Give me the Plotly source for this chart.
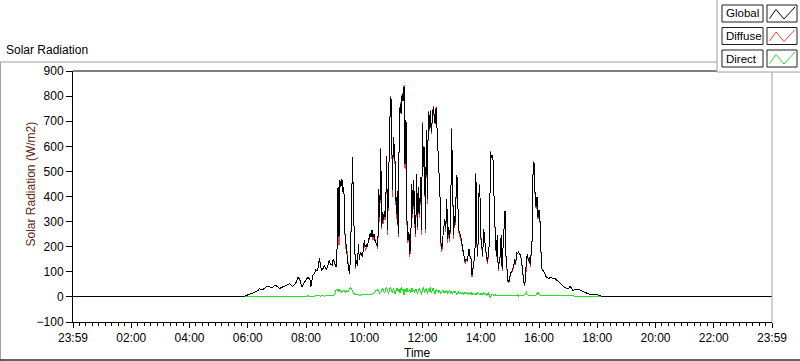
import plotly.graph_objects as go

# ---------------- data ----------------
START_MIN = 350      # first sample time (minutes after the 23:59 axis origin)
STEP_MIN = 2         # sampling interval, minutes

global_vals = [
    0, 2, 3, 5, 6, 8, 9, 10, 11, 13,
    15, 17, 19, 20, 22, 25, 27, 33, 32, 30,
    28, 31, 35, 38, 41, 43, 43, 42, 40, 38,
    36, 40, 44, 46, 45, 42, 38, 35, 33, 36,
    38, 40, 42, 44, 45, 46, 48, 50, 52, 50,
    46, 42, 45, 50, 53, 58, 70, 79, 72, 65,
    50, 40, 48, 55, 65, 70, 74, 77, 72, 70,
    40, 65, 86, 90, 95, 108, 104, 106, 130, 156,
    120, 106, 110, 115, 126, 118, 106, 120, 132, 145,
    130, 128, 126, 152, 140, 125, 119, 193,
    437, 238, 464, 440, 470, 420, 437, 258, 205, 193,
    139, 110, 92, 193, 384, 559, 331, 220, 119, 146,
    123, 212, 146, 180, 170, 159, 186, 225, 199, 210,
    199, 218, 230, 252, 240, 265, 239, 250, 225, 215,
    205, 199, 430, 318, 590, 278, 340, 305, 340, 318,
    563, 265, 450, 663, 795, 782, 424, 636, 597, 517,
    331, 420, 252, 650, 769, 729, 809, 780, 838, 530,
    703, 305, 225, 260, 172, 239, 451, 331, 464, 305,
    252, 491, 278, 437, 330, 477, 265, 690, 517, 597,
    271, 663, 391, 736, 670, 742, 657, 700, 755, 723,
    690, 755, 670, 620, 497, 405, 218, 192, 240, 280,
    311, 271, 391, 231, 280, 231, 311, 670, 405, 245,
    324, 300, 484, 470, 271, 258, 238, 231, 200, 178,
    160, 139, 152, 145, 165, 192, 160, 152, 86, 125,
    140, 165, 490, 218, 165, 405, 444, 245, 200, 165,
    271, 218, 192, 160, 139, 178, 218, 576, 556, 563,
    537, 338, 245, 165, 245, 112, 139, 165, 245, 112,
    200, 271, 344, 165, 112, 66, 59, 86, 99, 99,
    110, 125, 152, 132, 178, 172, 178, 172, 165, 145,
    100, 72, 46, 66, 150, 172, 145, 159, 126, 198,
    231, 537, 530, 404, 358, 398, 318, 345, 305, 185,
    112, 106, 100, 93,
    82, 78, 75, 72, 76, 79, 76, 74, 72, 73,
    72, 68, 64, 59, 56, 52, 48, 44, 40, 38,
    37, 36, 34, 32, 36, 42, 38, 30, 26, 27,
    29, 30, 30, 30, 29, 28, 27, 25, 23, 20,
    18, 16, 14, 12, 11, 11, 11, 11, 10, 10,
    9, 9, 8, 8, 7, 6, 5, 4, 2, 0,
]

diffuse_vals = [
    0, 2, 3, 5, 6, 8, 9, 10, 11, 13,
    15, 17, 19, 20, 22, 25, 27, 33, 32, 30,
    28, 31, 35, 38, 41, 43, 43, 42, 40, 38,
    36, 40, 44, 46, 45, 42, 38, 35, 33, 36,
    38, 40, 42, 44, 45, 46, 48, 50, 52, 50,
    46, 42, 45, 50, 53, 58, 70, 79, 70, 65,
    50, 40, 48, 55, 65, 70, 74, 77, 72, 70,
    40, 65, 86, 90, 95, 108, 104, 106, 130, 150,
    120, 106, 110, 115, 126, 118, 106, 120, 132, 145,
    130, 128, 126, 148, 140, 125, 119, 193,
    437, 205, 464, 440, 470, 420, 437, 258, 190, 193,
    139, 110, 92, 193, 384, 559, 331, 200, 112, 146,
    123, 212, 146, 180, 170, 159, 186, 225, 185, 195,
    199, 218, 230, 252, 240, 265, 225, 250, 225, 215,
    205, 190, 430, 300, 595, 270, 340, 290, 340, 305,
    563, 245, 450, 663, 800, 782, 400, 636, 597, 500,
    310, 420, 240, 650, 775, 729, 812, 780, 845, 510,
    703, 290, 215, 260, 160, 239, 451, 315, 464, 290,
    240, 491, 265, 437, 315, 477, 245, 695, 517, 597,
    255, 663, 370, 740, 660, 745, 650, 700, 760, 715,
    690, 758, 670, 600, 480, 405, 205, 180, 240, 270,
    311, 260, 391, 215, 280, 220, 311, 672, 395, 230,
    324, 285, 484, 470, 265, 250, 238, 225, 200, 172,
    160, 130, 152, 140, 165, 192, 155, 152, 80, 125,
    140, 165, 495, 205, 160, 405, 450, 235, 200, 160,
    271, 210, 192, 155, 130, 178, 218, 580, 556, 563,
    537, 338, 230, 160, 245, 105, 139, 160, 245, 105,
    200, 271, 344, 160, 112, 62, 55, 86, 99, 99,
    110, 118, 152, 128, 178, 172, 178, 170, 165, 140,
    100, 70, 42, 66, 150, 172, 140, 159, 120, 198,
    231, 540, 530, 395, 350, 398, 310, 345, 300, 180,
    112, 106, 100, 93,
    82, 78, 75, 72, 76, 79, 76, 74, 72, 73,
    72, 68, 64, 59, 56, 52, 48, 44, 40, 38,
    37, 36, 34, 32, 36, 42, 38, 30, 26, 27,
    29, 30, 30, 30, 29, 28, 27, 25, 23, 20,
    18, 16, 14, 12, 11, 11, 11, 11, 10, 10,
    9, 9, 8, 8, 7, 6, 5, 4, 2, 0,
]

direct_vals = [
    0, 0, 0, 0, 0, 0, 0, 0, 0, 0,
    0, 0, 0, 0, 0, 0, 0, 0, 0, 0,
    0, 0, 0, 0, 0, 0, 0, 0, 0, 0,
    0, 0, 0, 0, 0, 0, 0, 0, 0, 0,
    0, 0, 0, 0, 0, 1, 1, 1, 1, 1,
    1, 1, 2, 2, 3, 2, 1, 1, 2, 2,
    1, 2, 2, 3, 3, 2, 3, 4, 3, 2,
    2, 3, 2, 3, 3, 4, 5, 6, 4, 3,
    3, 4, 5, 4, 3, 5, 6, 5, 4, 6,
    5, 6, 4, 5, 8, 15, 28, 30,
    22, 30, 26, 20, 18, 24, 28, 22, 18, 25,
    20, 24, 30, 38, 30, 22, 12, 10, 8, 9,
    7, 8, 6, 7, 8, 10, 9, 8, 7, 8,
    9, 8, 10, 9, 11, 10, 12, 14, 20, 26,
    24, 28, 22, 14, 18, 28, 35, 20, 15, 30,
    38, 25, 12, 30, 40, 22, 18, 35, 26, 10,
    28, 36, 20, 32, 15, 38, 25, 30, 8, 32,
    20, 35, 18, 26, 30, 14, 36, 22, 28, 18,
    32, 24, 14, 30, 35, 20, 10, 28, 38, 18,
    25, 34, 12, 30, 20, 38, 16, 28, 35, 22,
    12, 30, 24, 18, 26, 20, 14, 22, 28, 16,
    24, 18, 26, 12, 22, 28, 16, 20, 14, 24,
    18, 22, 12, 16, 20, 14, 18, 12, 16, 10,
    14, 18, 12, 16, 10, 14, 12, 18, 10, 14,
    12, 8, 14, 10, 16, 12, 8, 14, 10, 12,
    16, 10, 14, 8, 12, 16, 4, 0, 8, 10,
    6, 5, 8, 4, 6, 5, 7, 4, 6, 8,
    5, 4, 6, 7, 5, 6, 4, 5, 8, 6,
    5, 7, 4, 6, 5, 8, 4, 6, 5, 7,
    6, 5, 8, 12, 18, 10, 6, 5, 6, 4,
    5, 6, 4, 5, 8, 14, 20, 10, 6, 5,
    4, 5, 6, 5,
    5, 4, 6, 5, 4, 5, 6, 4, 5, 5,
    4, 5, 6, 4, 5, 4, 5, 6, 4, 5,
    4, 5, 4, 5, 4, 4, 5, 4, 4, 3,
    4, 3, 4, 3, 3, 4, 3, 3, 3, 2,
    3, 2, 3, 2, 2, 2, 3, 2, 2, 1,
    2, 1, 1, 1, 1, 0, 0, 0, 0, 0,
]

DAY_END = 1440
tick_positions = [0, 120, 240, 360, 480, 600, 720, 840, 960, 1080, 1200, 1320, 1440]
tick_labels = ["23:59", "02:00", "04:00", "06:00", "08:00", "10:00", "12:00",
               "14:00", "16:00", "18:00", "20:00", "22:00", "23:59"]
y_ticks = [-100, 0, 100, 200, 300, 400, 500, 600, 700, 800, 900]

series_names = ["Global", "Diffuse", "Direct"]
series_colors = {"Global": "#000000", "Diffuse": "#ff3c3c", "Direct": "#1ee61e"}

# full-day time base (night hours are zero)
sample_minutes = list(range(START_MIN, START_MIN + STEP_MIN * len(global_vals), STEP_MIN))
t = [0] + sample_minutes + [DAY_END]


def pad(v):
    return [0] + list(v) + [0]


# ---------------- layout geometry (pixels) ----------------
W, H = 800, 361
PL, PR, PT, PB = 73, 772, 71, 322   # plot area edges


def px(x):
    return (x - PL) / (PR - PL)


def py(y):
    return (PB - y) / (PB - PT)


FONT = "Liberation Sans, Arial, sans-serif"

fig = go.Figure()
for name, vals in [("Direct", direct_vals), ("Diffuse", diffuse_vals), ("Global", global_vals)]:
    fig.add_trace(go.Scatter(x=t, y=pad(vals), mode="lines", name=name,
                             line=dict(color=series_colors[name], width=1),
                             showlegend=False, hoverinfo="skip"))

shapes = []
annotations = []

# outer frame
shapes.append(dict(type="line", xref="paper", yref="paper", x0=px(0), x1=px(717), y0=py(62), y1=py(62),
                   line=dict(color="#a0a0a0", width=1)))
shapes.append(dict(type="line", xref="paper", yref="paper", x0=px(0.5), x1=px(0.5), y0=py(62), y1=py(361),
                   line=dict(color="#a0a0a0", width=1)))
shapes.append(dict(type="line", xref="paper", yref="paper", x0=px(0), x1=px(800), y0=py(360), y1=py(360),
                   line=dict(color="#303030", width=1.5)))
# plot frame top (black) and right (gray)
shapes.append(dict(type="line", xref="paper", yref="paper", x0=0, x1=1, y0=1, y1=1,
                   line=dict(color="#000000", width=1)))
shapes.append(dict(type="line", xref="paper", yref="paper", x0=1, x1=1, y0=0, y1=1,
                   line=dict(color="#a0a0a0", width=1)))

# legend panel
shapes.append(dict(type="rect", xref="paper", yref="paper", x0=px(717), x1=px(806), y0=py(72), y1=py(-5),
                   line=dict(color="#a0a0a0", width=1), fillcolor="white"))
row_top = [5, 27.5, 50]
for name, top in zip(series_names, row_top):
    bot = top + 17
    shapes.append(dict(type="rect", xref="paper", yref="paper", x0=px(722), x1=px(763),
                       y0=py(bot), y1=py(top), line=dict(color="#202020", width=1), fillcolor="white"))
    shapes.append(dict(type="rect", xref="paper", yref="paper", x0=px(767), x1=px(797),
                       y0=py(bot), y1=py(top), line=dict(color="#202020", width=1), fillcolor="white"))
    path = (f"M {px(769.5)},{py(top + 13.5)} L {px(776)},{py(top + 4.5)} "
            f"L {px(784)},{py(top + 14)} L {px(795)},{py(top + 2)}")
    shapes.append(dict(type="path", xref="paper", yref="paper", path=path,
                       line=dict(color=series_colors[name], width=1)))
    annotations.append(dict(text=name, xref="paper", yref="paper", x=px(723.5), y=py(top + 8.5),
                            xanchor="left", yanchor="middle", showarrow=False,
                            font=dict(family=FONT, size=11.5, color="#000000")))

# titles
annotations.append(dict(text="Solar Radiation", xref="paper", yref="paper", x=px(4), y=py(50),
                        xanchor="left", yanchor="middle", showarrow=False,
                        font=dict(family=FONT, size=12, color="#000000")))
annotations.append(dict(text="Solar Radiation (W/m2)", xref="paper", yref="paper", x=px(30.5), y=py(184),
                        xanchor="center", yanchor="middle", textangle=-90, showarrow=False,
                        font=dict(family=FONT, size=12, color="#5a2a12")))
annotations.append(dict(text="Time", xref="paper", yref="paper", x=px(417), y=py(353),
                        xanchor="center", yanchor="middle", showarrow=False,
                        font=dict(family=FONT, size=12, color="#000000")))

fig.update_layout(
    width=W, height=H, autosize=False,
    margin=dict(l=PL, r=W - PR, t=PT, b=H - PB, pad=0),
    paper_bgcolor="white", plot_bgcolor="white",
    font=dict(family=FONT, size=12, color="#000000"),
    shapes=shapes, annotations=annotations,
    xaxis=dict(range=[0, DAY_END], tickmode="array", tickvals=tick_positions, ticktext=tick_labels,
               showgrid=False, zeroline=False, showline=True, linecolor="#000000", linewidth=1,
               ticks="outside", ticklen=5, tickcolor="#000000", tickwidth=1,
               tickfont=dict(family=FONT, size=12, color="#000000"),
               minor=dict(tickmode="linear", tick0=0, dtick=120 / 9, ticks="outside", ticklen=3,
                          tickcolor="#000000", tickwidth=1, showgrid=False),
               fixedrange=True),
    yaxis=dict(range=[-100, 900], tickmode="array", tickvals=y_ticks,
               showgrid=False, zeroline=False, showline=True, linecolor="#000000", linewidth=1,
               ticks="outside", ticklen=6, tickcolor="#000000", tickwidth=1,
               tickfont=dict(family=FONT, size=12, color="#000000"),
               fixedrange=True),
)

post_js = (
    "document.body.style.margin='0';"
    "document.querySelectorAll('.scatterlayer .js-line').forEach(function(p){"
    "p.style.shapeRendering='crispEdges';});"
)
fig.write_html("out.html", config={"displayModeBar": False, "staticPlot": True}, post_script=post_js)
